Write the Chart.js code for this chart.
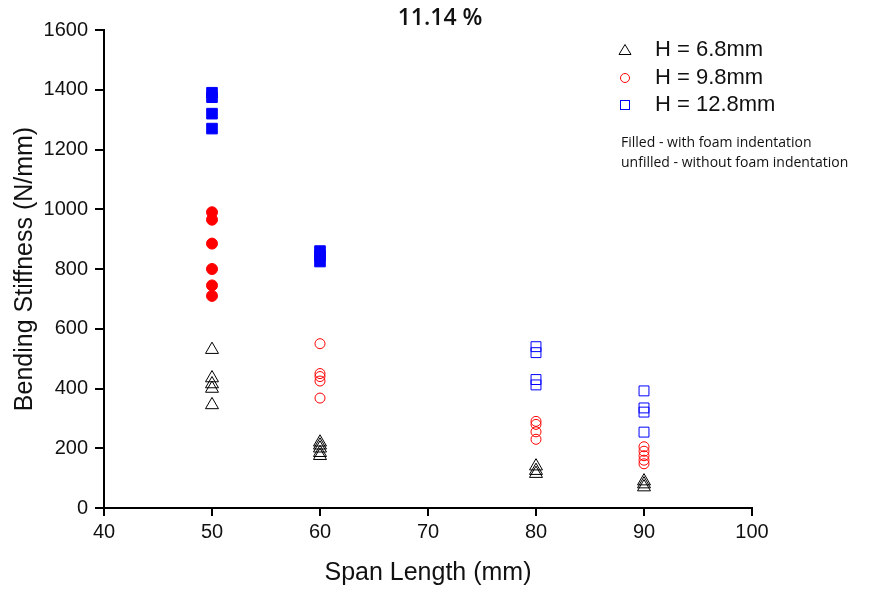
<!DOCTYPE html>
<html>
<head>
<meta charset="utf-8">
<script src="https://cdn.jsdelivr.net/npm/chart.js@4.4.1/dist/chart.umd.min.js"></script>
<style>
  html, body { margin: 0; padding: 0; background: #fff; }
  #wrap { width: 881px; height: 592px; position: relative; }
</style>
</head>
<body>
<div id="wrap"><canvas id="stiffness-chart"></canvas></div>
<script>
"use strict";

// Chart data
var chartTitle = "11.14 %";
var xTicks = [40, 50, 60, 70, 80, 90, 100];
var yTicks = [0, 200, 400, 600, 800, 1000, 1200, 1400, 1600];

// H = 6.8mm, without foam indentation
var h68OpenX = [50, 50, 50, 50, 50, 60, 60, 60, 60, 60, 80, 80, 80, 90, 90, 90];
var h68OpenY = [530, 435, 415, 400, 345, 220, 210, 200, 185, 175, 140, 125, 115, 90, 80, 70];

// H = 9.8mm
var h98FilledX = [50, 50, 50, 50, 50, 50];
var h98FilledY = [990, 965, 885, 800, 745, 710];
var h98OpenX = [60, 60, 60, 60, 60, 80, 80, 80, 80, 90, 90, 90, 90, 90];
var h98OpenY = [550, 450, 440, 425, 368, 290, 280, 255, 230, 205, 190, 175, 160, 148];

// H = 12.8mm
var h128FilledX = [50, 50, 50, 50, 60, 60, 60];
var h128FilledY = [1390, 1375, 1320, 1270, 860, 845, 825];
var h128OpenX = [80, 80, 80, 80, 90, 90, 90, 90];
var h128OpenY = [540, 520, 430, 412, 392, 335, 321, 254];

var legendLabels = ["H = 6.8mm", "H = 9.8mm", "H = 12.8mm"];
var noteLines = ["Filled - with foam indentation", "unfilled - without foam indentation"];

function toPoints(xs, ys) {
    return xs.map(function (x, i) { return { x: x, y: ys[i] }; });
}

function makeSet(label, xs, ys, color, style, radius, filled) {
    return {
        label: label,
        data: toPoints(xs, ys),
        pointStyle: style,
        pointRadius: radius,
        pointHoverRadius: radius,
        borderColor: color,
        backgroundColor: filled ? color : "rgba(0,0,0,0)",
        pointBorderWidth: 1,
        showLine: false
    };
}

// Title, legend and note drawn on top of the chart
var overlayPlugin = {
    id: "overlay",
    afterDraw: function (chart) {
        var ctx = chart.ctx;
        ctx.save();
        ctx.fillStyle = "#111";
        ctx.font = "600 23px 'Open Sans'";
        ctx.textAlign = "center";
        ctx.textBaseline = "middle";
        ctx.fillText(chartTitle, 440, 18);

        var rows = [50, 78, 105];
        var colors = ["#000000", "#ff0000", "#0000ff"];
        ctx.lineWidth = 1;
        // triangle
        ctx.strokeStyle = colors[0];
        ctx.beginPath();
        ctx.moveTo(625, rows[0] - 5.5);
        ctx.lineTo(631, rows[0] + 4.5);
        ctx.lineTo(619, rows[0] + 4.5);
        ctx.closePath();
        ctx.stroke();
        // circle
        ctx.strokeStyle = colors[1];
        ctx.beginPath();
        ctx.arc(625, rows[1], 4.5, 0, Math.PI * 2);
        ctx.stroke();
        // square
        ctx.strokeStyle = colors[2];
        ctx.strokeRect(620.5, rows[2] - 4.5, 9, 9);

        ctx.fillStyle = "#111";
        ctx.textAlign = "left";
        ctx.font = "22px 'Liberation Sans'";
        legendLabels.forEach(function (t, i) { ctx.fillText(t, 655, rows[i]); });

        ctx.font = "14px 'Open Sans'";
        ctx.fillText(noteLines[0], 621, 143);
        ctx.fillText(noteLines[1], 621, 163);
        ctx.restore();
    }
};

var axisFont = { family: "'Liberation Sans'", size: 20 };

new Chart(document.getElementById("stiffness-chart"), {
    type: "scatter",
    data: {
        datasets: [
            makeSet("H = 6.8mm", h68OpenX, h68OpenY, "#000000", "triangle", 7.5, false),
            makeSet("H = 9.8mm filled", h98FilledX, h98FilledY, "#ff0000", "circle", 5.5, true),
            makeSet("H = 9.8mm", h98OpenX, h98OpenY, "#ff0000", "circle", 5, false),
            makeSet("H = 12.8mm filled", h128FilledX, h128FilledY, "#0000ff", "rect", 7.5, true),
            makeSet("H = 12.8mm", h128OpenX, h128OpenY, "#0000ff", "rect", 7, false)
        ]
    },
    options: {
        responsive: true,
        maintainAspectRatio: false,
        animation: false,
        layout: { padding: { top: 30, right: 129, left: 0, bottom: 0 } },
        plugins: {
            legend: { display: false },
            tooltip: { enabled: false }
        },
        scales: {
            x: {
                type: "linear",
                min: 40, max: 100,
                afterBuildTicks: function (s) { s.ticks = xTicks.map(function (v) { return { value: v }; }); },
                afterFit: function (s) { s.height = 84; },
                ticks: { color: "#111", font: axisFont, padding: 4, maxRotation: 0,
                         callback: function (v) { return String(v); } },
                grid: { display: true, drawOnChartArea: false, drawTicks: true, tickLength: 8, color: "#000", lineWidth: 2 },
                border: { display: true, color: "#000", width: 2 },
                title: { display: true, text: "Span Length (mm)", color: "#111",
                         font: { family: "'Liberation Sans'", size: 25 }, padding: { top: 0, bottom: 4 } }
            },
            y: {
                type: "linear",
                min: 0, max: 1600,
                afterBuildTicks: function (s) { s.ticks = yTicks.map(function (v) { return { value: v }; }); },
                afterFit: function (s) { s.width = 104; },
                ticks: { color: "#111", font: axisFont, padding: 7,
                         callback: function (v) { return String(v); } },
                grid: { display: true, drawOnChartArea: false, drawTicks: true, tickLength: 9, color: "#000", lineWidth: 2 },
                border: { display: true, color: "#000", width: 2 },
                title: { display: true, text: "Bending Stiffness (N/mm)", color: "#111",
                         font: { family: "'Liberation Sans'", size: 25 }, padding: { top: 10, bottom: 0 } }
            }
        }
    },
    plugins: [overlayPlugin]
});
</script>
</body>
</html>
